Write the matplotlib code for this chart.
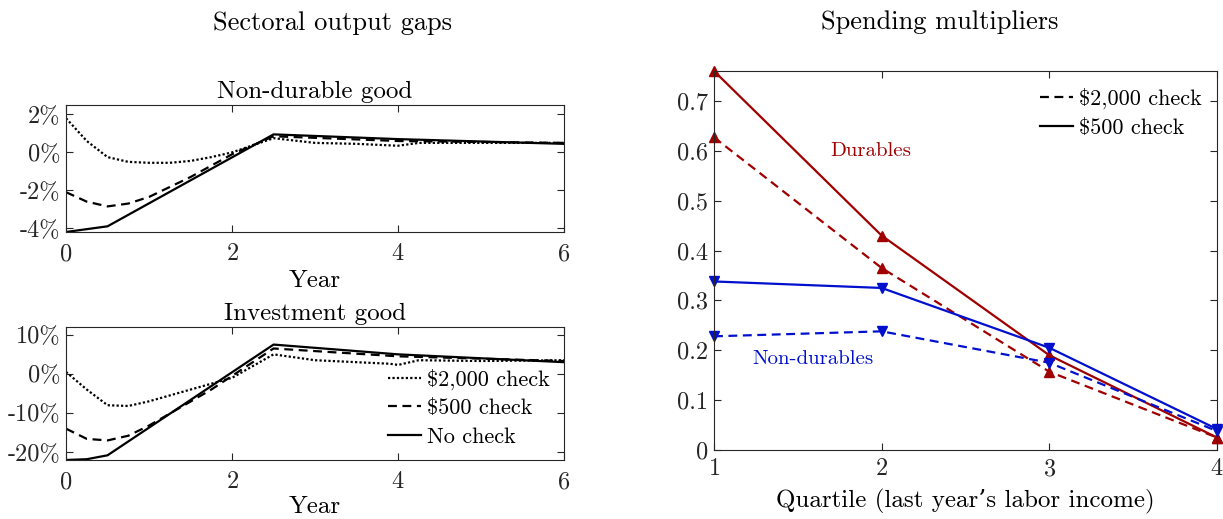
import matplotlib.pyplot as plt

plt.rcParams['font.family'] = ['cmr10', 'DejaVu Serif']
plt.rcParams['mathtext.fontset'] = 'cm'
plt.rcParams['axes.unicode_minus'] = False
plt.rcParams['axes.formatter.use_mathtext'] = True

# left panels: sectoral output gaps (percent)
nd_x_solid = [0, 0.5, 2.5, 4, 6]
nd_solid = [-4.2, -3.9, 0.95, 0.7, 0.45]
nd_x_dash = [0, 0.25, 0.5, 0.75, 1, 1.5, 2, 2.5, 4, 6]
nd_dash = [-2.1, -2.6, -2.85, -2.7, -2.35, -1.3, -0.1, 0.85, 0.6, 0.5]
nd_x_dot = [0, 0.25, 0.5, 0.75, 1, 1.25, 1.5, 1.75, 2, 2.5, 3, 3.5, 4, 4.25, 5, 6]
nd_dot = [1.8, 0.6, -0.25, -0.5, -0.55, -0.55, -0.45, -0.25, 0.0, 0.75, 0.5, 0.45, 0.35, 0.5, 0.5, 0.5]

inv_x_solid = [0, 0.25, 0.5, 2.5, 4, 5, 6]
inv_solid = [-22, -21.8, -20.8, 7.5, 5, 4, 3]
inv_x_dash = [0, 0.25, 0.5, 0.75, 1, 1.75, 2.5, 4, 6]
inv_dash = [-14, -16.6, -17, -15.8, -13.2, -4, 6.5, 4.5, 3.3]
inv_x_dot = [0, 0.25, 0.5, 0.75, 1, 1.5, 2, 2.5, 3, 3.5, 3.9, 4, 4.25, 5, 6]
inv_dot = [0.5, -4, -8, -8.2, -7, -4, -1, 5, 3.5, 3, 2.6, 2.3, 3.5, 3.3, 3.5]

# right panel: spending multipliers
quartiles = [1, 2, 3, 4]
dur_500 = [0.76, 0.43, 0.19, 0.025]
dur_2000 = [0.627, 0.365, 0.157, 0.025]
nondur_500 = [0.338, 0.325, 0.205, 0.042]
nondur_2000 = [0.228, 0.238, 0.175, 0.038]

RED = '#a00000'
BLUE = '#0010cc'
GRAY = '#262626'
DOT = (0, (1, 1))
DASH = (0, (4, 2.5))
TICK = 17.5

fig = plt.figure(figsize=(12.23, 5.19), dpi=100)
ax1 = fig.add_axes([0.054, 0.553, 0.4072, 0.2447])
ax2 = fig.add_axes([0.054, 0.1137, 0.4072, 0.2563])
ax3 = fig.add_axes([0.5838, 0.1329, 0.4113, 0.7303])


def style(ax, xpad):
    for s in ax.spines.values():
        s.set_color(GRAY)
        s.set_linewidth(0.8)
    ax.tick_params(direction='in', top=True, right=True, colors=GRAY,
                   labelsize=TICK, length=5, labelcolor=GRAY, pad=4)
    ax.tick_params(axis='x', pad=xpad)


leg_kw = dict(frameon=False, fontsize=16, handlelength=1.45, handletextpad=0.3,
              labelspacing=0.4, borderaxespad=0.0, borderpad=0.0)

ax1.plot(nd_x_dot, nd_dot, color='k', lw=1.6, ls=DOT)
ax1.plot(nd_x_dash, nd_dash, color='k', lw=1.6, ls=DASH)
ax1.plot(nd_x_solid, nd_solid, color='k', lw=1.6)
ax1.set_xlim(0, 6)
ax1.set_ylim(-4.2, 2.5)
ax1.set_xticks([0, 2, 4, 6])
ax1.set_yticks([-4, -2, 0, 2])
ax1.set_yticklabels(['-4%', '-2%', '0%', '2%'])
ax1.set_xlabel('Year', fontsize=18, labelpad=3)
ax1.set_title('Non-durable good', fontsize=18, pad=5)
style(ax1, 8)

ax2.plot(inv_x_dot, inv_dot, color='k', lw=1.6, ls=DOT, label='\\$2,000 check')
ax2.plot(inv_x_dash, inv_dash, color='k', lw=1.6, ls=DASH, label='\\$500 check')
ax2.plot(inv_x_solid, inv_solid, color='k', lw=1.6, label='No check')
ax2.set_xlim(0, 6)
ax2.set_ylim(-22, 12)
ax2.set_xticks([0, 2, 4, 6])
ax2.set_yticks([-20, -10, 0, 10])
ax2.set_yticklabels(['-20%', '-10%', '0%', '10%'])
ax2.set_xlabel('Year', fontsize=18, labelpad=2)
ax2.set_title('Investment good', fontsize=18, pad=5)
ax2.legend(loc='lower right', bbox_to_anchor=(0.972, 0.10), **leg_kw)
style(ax2, 8)

ax3.plot(quartiles, dur_2000, color=RED, lw=1.6, ls=DASH, marker='^', ms=7.5, clip_on=False)
ax3.plot(quartiles, dur_500, color=RED, lw=1.6, marker='^', ms=7.5, clip_on=False)
ax3.plot(quartiles, nondur_2000, color=BLUE, lw=1.6, ls=DASH, marker='v', ms=7.5, clip_on=False)
ax3.plot(quartiles, nondur_500, color=BLUE, lw=1.6, marker='v', ms=7.5, clip_on=False)
ax3.plot([], [], color='k', lw=1.6, ls=DASH, label='\\$2,000 check')
ax3.plot([], [], color='k', lw=1.6, label='\\$500 check')
ax3.legend(loc='upper right', bbox_to_anchor=(0.970, 0.955), **leg_kw)
ax3.text(1.936, 0.6, 'Durables', color=RED, fontsize=15, ha='center', va='center')
ax3.text(1.59, 0.182, 'Non-durables', color=BLUE, fontsize=15, ha='center', va='center')
ax3.set_xlim(1, 4)
ax3.set_ylim(0, 0.76)
ax3.set_xticks([1, 2, 3, 4])
ax3.set_yticks([0, 0.1, 0.2, 0.3, 0.4, 0.5, 0.6, 0.7])
ax3.set_yticklabels(['0', '0.1', '0.2', '0.3', '0.4', '0.5', '0.6', '0.7'])
ax3.set_xlabel('Quartile (last year\u2019s labor income)', fontsize=18, labelpad=6)
style(ax3, 6)

fig.text(0.272, 0.955, 'Sectoral output gaps', fontsize=19, ha='center', va='center')
fig.text(0.768, 0.958, 'Spending multipliers', fontsize=19, ha='center', va='center')

fig.savefig('out.png', dpi=100)
